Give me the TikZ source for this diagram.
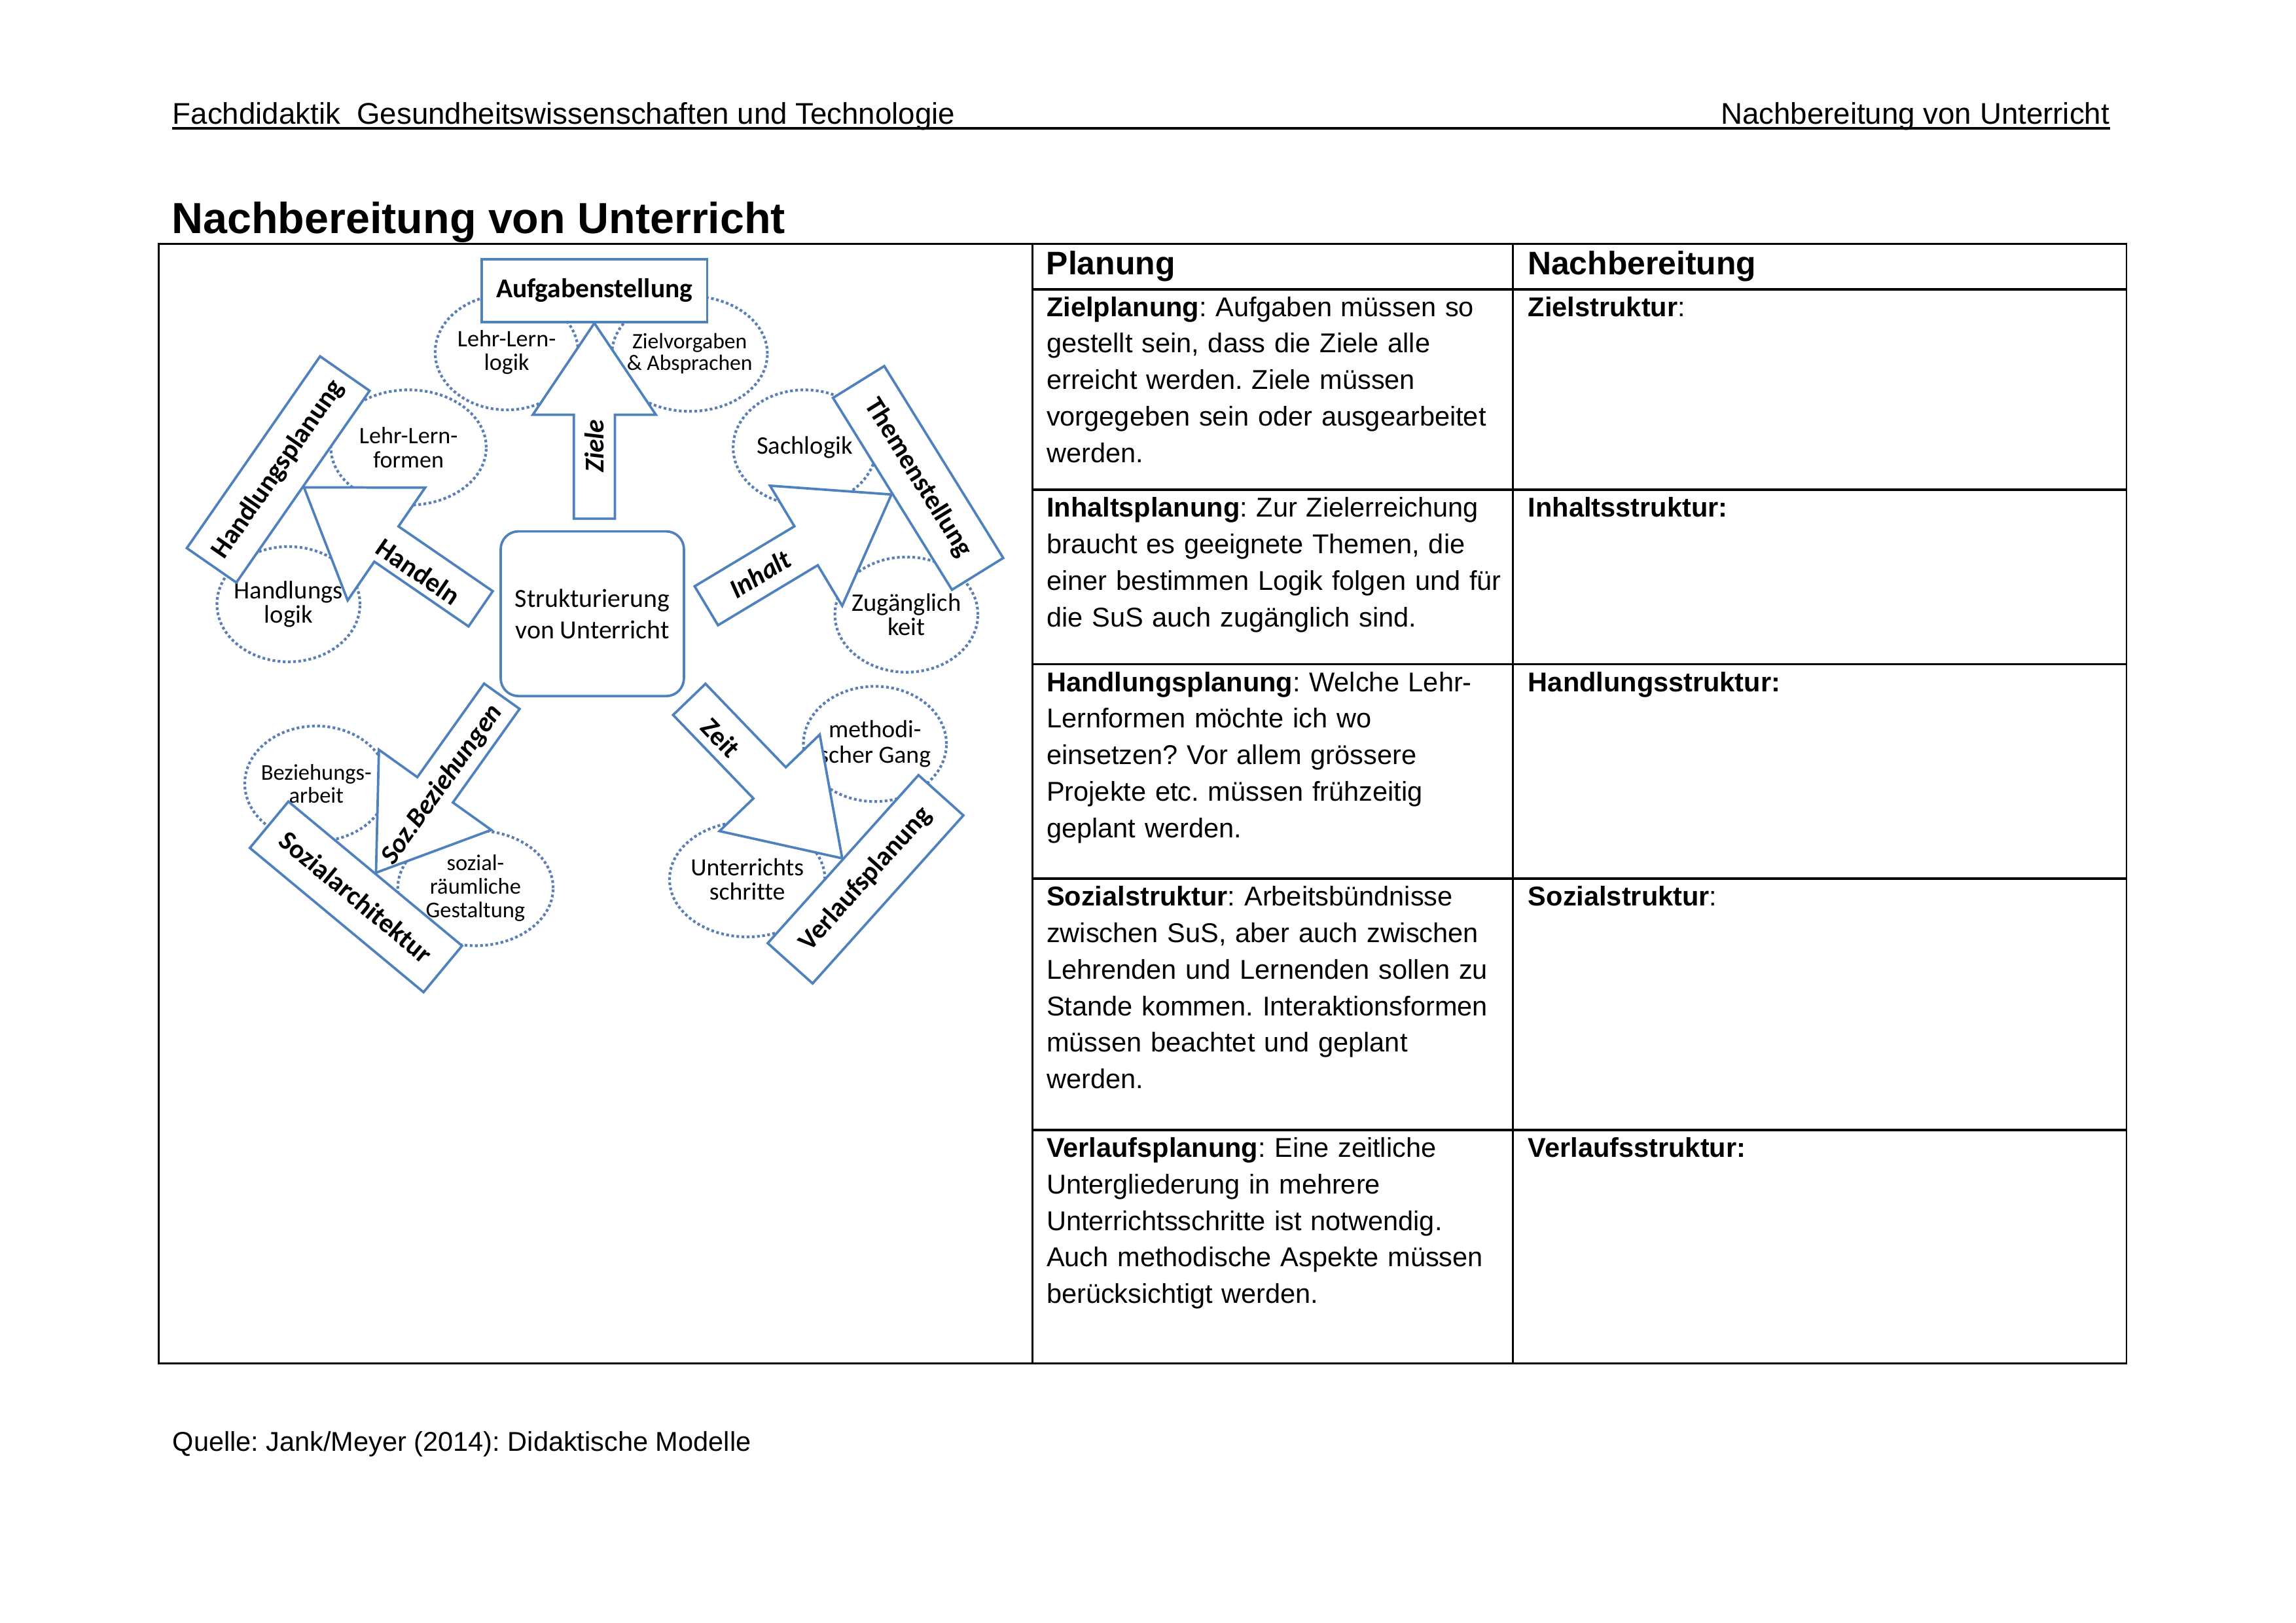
\documentclass[tikz,border=0pt]{standalone}
\usepackage{fontspec}
\setmainfont{Liberation Sans}
\newfontfamily\calibri[Ligatures=NoCommon]{Carlito}
\usepackage{tikz}
\usetikzlibrary{shapes.geometric}
\definecolor{shapeBlue}{HTML}{4F81BD}
\definecolor{bubbleBlue}{HTML}{5B7DB8}
\frenchspacing

% block arrow: tip, angle, length, head length, head width, shaft width
\newcommand{\blockarrow}[6]{%
  \draw[barrow, shift={(#1)}, rotate=#2]
    (0,0) -- (-#4,#5/2) -- (-#4,#6/2) -- (-#3,#6/2)
    -- (-#3,-#6/2) -- (-#4,-#6/2) -- (-#4,-#5/2) -- cycle;}

\begin{document}
\begin{tikzpicture}[
    x=0.189413mm, y=-0.189413mm,
    pagetext/.style={anchor=base west, inner sep=0pt},
    cell/.style={anchor=base west, inner sep=0pt, text width=63mm, align=left,
                 font=\fontsize{10}{13.42}\selectfont},
    headcell/.style={anchor=base west, inner sep=0pt, font=\fontsize{12}{14}\selectfont\bfseries},
    grid/.style={line width=0.7pt},
    rowline/.style={line width=0.9pt},
    planbox/.style={rectangle, draw=shapeBlue, line width=0.9pt, fill=white,
                    minimum width=29.2mm, minimum height=7.8mm, inner sep=0pt,
                    font=\calibri\fontsize{10}{12}\selectfont\bfseries},
    bubble/.style={ellipse, draw=bubbleBlue, line width=1pt, dash pattern=on 1pt off 0.9pt,
                   fill=white, inner sep=0pt, minimum width=18.5mm, minimum height=14.9mm},
    widebubble/.style={bubble, minimum width=20.1mm},
    bubtext/.style={align=center, inner sep=0pt},
    barrow/.style={draw=shapeBlue, line width=0.9pt, fill=white},
    alabel/.style={inner sep=0pt, font=\calibri\fontsize{10}{12}\selectfont\bfseries},
    alabelit/.style={inner sep=0pt, font=\calibri\fontsize{10}{12}\selectfont\bfseries\itshape},
]
    \fill[white] (0,0) rectangle (1568,1108);

    % Page header
    \node[pagetext, font=\fontsize{11}{13}\selectfont] (hdrl) at (117.5,84.9)
        {Fachdidaktik\ \ Gesundheitswissenschaften und Technologie};
    \node[anchor=base east, inner sep=0pt, font=\fontsize{11}{13}\selectfont] (hdrr) at (1441,84.9)
        {Nachbereitung von Unterricht};
    \draw[line width=0.8pt] ([yshift=-0.51mm]hdrl.base west) -- ([yshift=-0.51mm]hdrr.base east);
    \node[pagetext, font=\fontsize{16}{19}\selectfont\bfseries] (title) at (117,159.4)
        {Nachbereitung von Unterricht};

    % Table frame
    \draw[grid] (108.5,166.3) rectangle (1452.2,930.8);
    \draw[grid] (705,166.3) -- (705,930.8);
    \draw[grid] (1033,166.3) -- (1033,930.8);
    \foreach \y in {197.4,334.5,453.5,600,771.5}
        \draw[rowline] (705,\y) -- (1452.2,\y);

    % Table header
    \node[headcell] (hplanung) at (714.3,187.7) {Planung};
    \node[headcell] (hnachber) at (1043,187.7) {Nachbereitung};

    % Planung column
    \node[cell] (zielpl) at (714.4,216) {\textbf{Zielplanung}: Aufgaben müssen so\\
        gestellt sein, dass die Ziele alle\\ erreicht werden. Ziele müssen\\
        vorgegeben sein oder ausgearbeitet\\ werden.};
    \node[cell] (inhaltpl) at (714.4,353.1) {\textbf{Inhaltsplanung}: Zur Zielerreichung\\
        braucht es geeignete Themen, die\\ einer bestimmen Logik folgen und für\\
        die SuS auch zugänglich sind.};
    \node[cell] (handlpl) at (714.4,472.1) {\textbf{Handlungsplanung}: Welche Lehr-\\
        Lernformen möchte ich wo\\ einsetzen? Vor allem grössere\\
        Projekte etc. müssen frühzeitig\\ geplant werden.};
    \node[cell] (sozialpl) at (714.4,618.6) {\textbf{Sozialstruktur}: Arbeitsbündnisse\\
        zwischen SuS, aber auch zwischen\\ Lehrenden und Lernenden sollen zu\\
        Stande kommen. Interaktionsformen\\ müssen beachtet und geplant\\ werden.};
    \node[cell] (verlaufpl) at (714.4,790.1) {\textbf{Verlaufsplanung}: Eine zeitliche\\
        Untergliederung in mehrere\\ Unterrichtsschritte ist notwendig.\\
        Auch methodische Aspekte müssen\\ berücksichtigt werden.};

    % Nachbereitung column
    \node[cell] (zielstr) at (1043.3,216) {\textbf{Zielstruktur}:};
    \node[cell] (inhaltstr) at (1043.3,353.1) {\textbf{Inhaltsstruktur:}};
    \node[cell] (handlstr) at (1043.3,472.1) {\textbf{Handlungsstruktur:}};
    \node[cell] (sozialstr) at (1043.3,618.6) {\textbf{Sozialstruktur}:};
    \node[cell] (verlaufstr) at (1043.3,790.1) {\textbf{Verlaufsstruktur:}};

    % Footer
    \node[pagetext, font=\fontsize{10}{12}\selectfont] (quelle) at (117.5,990.5)
        {Quelle: Jank/Meyer (2014): Didaktische Modelle};

    % Bubbles
    \node[bubble, label={[bubtext, font=\calibri\fontsize{8.7}{8.8}\selectfont]center:{Lehr-Lern-\\logik}}]
        (lllogik) at (346,240.5) {};
    \node[widebubble, label={[bubtext, font=\calibri\fontsize{8.1}{8}\selectfont]center:{Zielvorgaben\\\& Absprachen}}]
        (zielvorg) at (471,241.5) {};
    \node[widebubble, label={[bubtext, font=\calibri\fontsize{8.7}{8.8}\selectfont]center:{Lehr-Lern-\\formen}}]
        (llformen) at (279,305.5) {};
    \node[bubble, label={[bubtext, font=\calibri\fontsize{9.3}{8.8}\selectfont]center:{Handlungs\\logik}}]
        (hlogik) at (197,412.5) {};
    \node[bubble, label={[bubtext, font=\calibri\fontsize{9.3}{9}\selectfont]center:{Sachlogik}}]
        (sachlogik) at (549.5,305.5) {};
    \node[bubble, label={[bubtext, font=\calibri\fontsize{9.3}{9}\selectfont]center:{Zugänglich\\keit}}]
        (zugang) at (619,419.6) {};
    \node[bubble, label={[bubtext, font=\calibri\fontsize{8.3}{8.3}\selectfont]center:{Beziehungs-\\arbeit}}]
        (bezarbeit) at (216,535) {};
    \node[widebubble, label={[bubtext, font=\calibri\fontsize{8.3}{8.6}\selectfont]center:{sozial-\\räumliche\\Gestaltung}}]
        (sozraum) at (324.7,606.3) {};
    \node[bubble, label={[bubtext, font=\calibri\fontsize{9.1}{9.3}\selectfont]center:{methodi-\\scher Gang}}]
        (methgang) at (597.5,507.9) {};
    \node[widebubble, label={[bubtext, font=\calibri\fontsize{9.1}{9}\selectfont]center:{Unterrichts\\schritte}}]
        (uschritte) at (510.3,600.3) {};

    % Planning boxes
    \node[planbox, minimum height=8.1mm] (aufgabe) at (405.9,198.4) {Aufgabenstellung};
    \node[planbox, minimum width=30.2mm, rotate=55.2] (hplan) at (190,320.5) {Handlungsplanung};
    \node[planbox, rotate=-58.2] (thema) at (627,326.3) {Themenstellung};
    \node[planbox, rotate=-39.7] (sozarch) at (243.1,612.3) {Sozialarchitektur};
    \node[planbox, rotate=48.1] (verlauf) at (591.1,600.3) {Verlaufsplanung};

    % Block arrows
    \blockarrow{aufgabe.south}{90}{133.5}{62.5}{84}{28}
    \blockarrow{hplan.south}{145.5}{146.4}{68.3}{93.4}{29.2}
    \blockarrow{thema.south}{31}{147.5}{68}{95.7}{31}
    \blockarrow{sozarch.north}{234.5}{148}{69.5}{94.3}{29.8}
    \blockarrow{verlauf.north}{-46.1}{150.6}{71.5}{95}{30.7}

    % Centre
    \node[draw=shapeBlue, line width=0.9pt, fill=white, rounded corners=2.3mm,
          minimum width=23.7mm, minimum height=21.3mm, align=center,
          font=\calibri\fontsize{9.6}{11.6}\selectfont] (struktur) at (404.5,419)
        {Strukturierung\\von Unterricht};

    % Arrow labels
    \node[alabelit, rotate=90] (zieletxt) at (405.8,304.5) {Ziele};
    \node[alabel, rotate=-34.5] (handelntxt) at (285.6,390.1) {Handeln};
    \node[alabelit, rotate=31] (inhalttxt) at (519,391.9) {Inhalt};
    \node[alabelit, rotate=54.5] (soztxt) at (302.1,535.6) {Soz.Beziehungen};
    \node[alabel, rotate=-46.1] (zeittxt) at (492.2,503.7) {Zeit};
\end{tikzpicture}
\end{document}
